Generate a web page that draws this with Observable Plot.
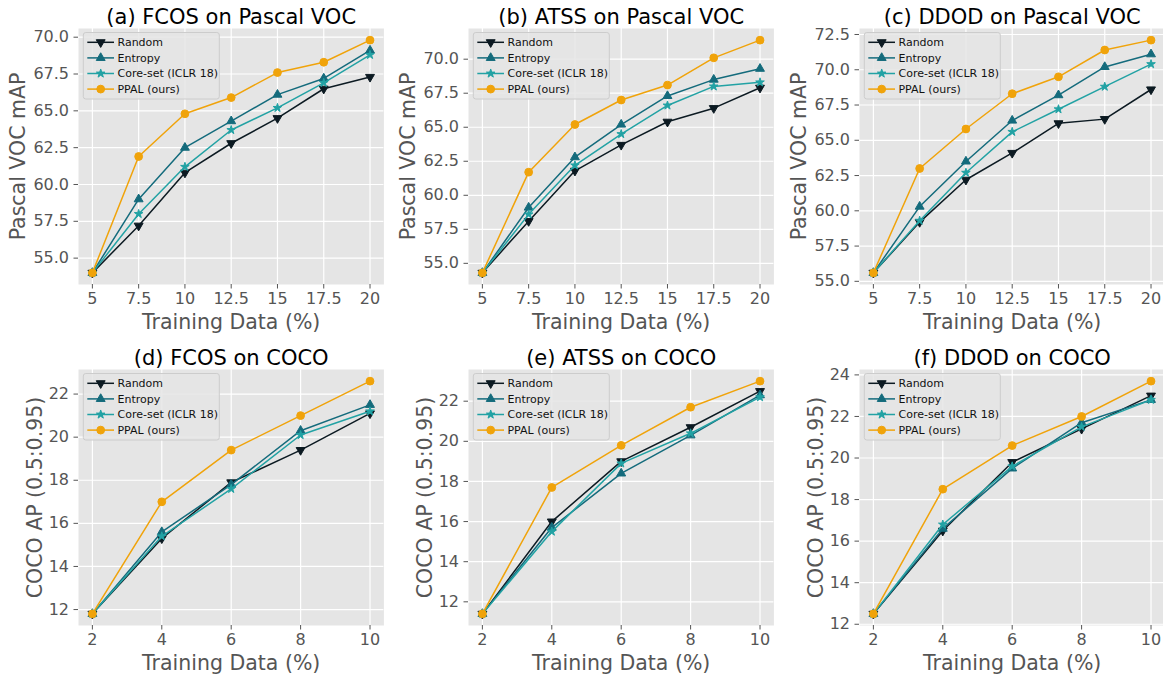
<!DOCTYPE html>
<html><head><meta charset="utf-8">
<script src="https://cdn.jsdelivr.net/npm/d3@7"></script>
<script src="https://cdn.jsdelivr.net/npm/@observablehq/plot@0.6"></script>
<style>
html,body{margin:0;padding:0;background:#fff;overflow:hidden;}
#wrap{position:relative;width:1163px;height:675px;overflow:hidden;font-family:"DejaVu Sans",sans-serif;}
.panel{position:absolute;width:390px;height:337px;}
.panel svg{max-width:none !important;overflow:visible;}
</style></head><body><div id="wrap"></div>
<script>
const methods = ["Random", "Entropy", "Core-set (ICLR 18)", "PPAL (ours)"];
const colors = ["#0c1a22", "#146b7c", "#22a2a4", "#f0a30a"];

const vocX = [5, 7.5, 10, 12.5, 15, 17.5, 20];
const cocoX = [2, 4, 6, 8, 10];
const vocYTicks = [55, 57.5, 60, 62.5, 65, 67.5, 70];
const vocYTicksC = [55, 57.5, 60, 62.5, 65, 67.5, 70, 72.5];
const cocoYTicks = [12, 14, 16, 18, 20, 22];
const cocoYTicksF = [12, 14, 16, 18, 20, 22, 24];

const fcosVocRandom  = [54.0, 57.2, 60.8, 62.8, 64.5, 66.5, 67.3];
const fcosVocEntropy = [54.0, 59.0, 62.5, 64.3, 66.1, 67.2, 69.1];
const fcosVocCoreset = [54.0, 58.0, 61.2, 63.7, 65.2, 66.9, 68.8];
const fcosVocPPAL    = [54.0, 61.9, 64.8, 65.9, 67.6, 68.3, 69.8];

const atssVocRandom  = [54.3, 58.1, 61.8, 63.7, 65.4, 66.4, 67.9];
const atssVocEntropy = [54.3, 59.1, 62.8, 65.2, 67.3, 68.5, 69.3];
const atssVocCoreset = [54.3, 58.6, 62.2, 64.5, 66.6, 68.0, 68.3];
const atssVocPPAL    = [54.3, 61.7, 65.2, 67.0, 68.1, 70.1, 71.4];

const ddodVocRandom  = [55.6, 59.2, 62.2, 64.1, 66.2, 66.5, 68.6];
const ddodVocEntropy = [55.6, 60.3, 63.5, 66.4, 68.2, 70.2, 71.1];
const ddodVocCoreset = [55.6, 59.3, 62.7, 65.6, 67.2, 68.8, 70.4];
const ddodVocPPAL    = [55.6, 63.0, 65.8, 68.3, 69.5, 71.4, 72.1];

const fcosCocoRandom  = [11.8, 15.3, 17.9, 19.4, 21.1];
const fcosCocoEntropy = [11.8, 15.6, 17.8, 20.3, 21.5];
const fcosCocoCoreset = [11.8, 15.4, 17.6, 20.1, 21.2];
const fcosCocoPPAL    = [11.8, 17.0, 19.4, 21.0, 22.6];

const atssCocoRandom  = [11.4, 16.0, 19.0, 20.7, 22.5];
const atssCocoEntropy = [11.4, 15.7, 18.4, 20.3, 22.3];
const atssCocoCoreset = [11.4, 15.5, 18.9, 20.4, 22.2];
const atssCocoPPAL    = [11.4, 17.7, 19.8, 21.7, 23.0];

const ddodCocoRandom  = [12.5, 16.5, 19.8, 21.4, 23.0];
const ddodCocoEntropy = [12.5, 16.6, 19.5, 21.7, 22.8];
const ddodCocoCoreset = [12.5, 16.8, 19.6, 21.5, 22.8];
const ddodCocoPPAL    = [12.5, 18.5, 20.6, 22.0, 23.7];

const titles = ["(a) FCOS on Pascal VOC", "(b) ATSS on Pascal VOC", "(c) DDOD on Pascal VOC",
                "(d) FCOS on COCO", "(e) ATSS on COCO", "(f) DDOD on COCO"];
const xLabel = "Training Data (%)";
const vocYLabel = "Pascal VOC mAP";
const cocoYLabel = "COCO AP (0.5:0.95)";

// custom down-pointing triangle
const sqrt3 = Math.sqrt(3);
const triangleDown = {
  draw(context, size) {
    const y = -Math.sqrt(size / (sqrt3 * 3));
    context.moveTo(0, -y * 2);
    context.lineTo(-sqrt3 * y, y);
    context.lineTo(sqrt3 * y, y);
    context.closePath();
  }
};
const symbols = [triangleDown, d3.symbolTriangle, d3.symbolStar, d3.symbolCircle];
const radii = [3.3, 3.3, 2.7, 3.9];

const panels = [
  {title: titles[0], x: vocX, yTicks: vocYTicks, yFmt: d3.format(".1f"), yLabel: vocYLabel, series: [fcosVocRandom, fcosVocEntropy, fcosVocCoreset, fcosVocPPAL]},
  {title: titles[1], x: vocX, yTicks: vocYTicks, yFmt: d3.format(".1f"), yLabel: vocYLabel, series: [atssVocRandom, atssVocEntropy, atssVocCoreset, atssVocPPAL]},
  {title: titles[2], x: vocX, yTicks: vocYTicksC, yFmt: d3.format(".1f"), yLabel: vocYLabel, series: [ddodVocRandom, ddodVocEntropy, ddodVocCoreset, ddodVocPPAL]},
  {title: titles[3], x: cocoX, yTicks: cocoYTicks, yFmt: d => String(d), yLabel: cocoYLabel, series: [fcosCocoRandom, fcosCocoEntropy, fcosCocoCoreset, fcosCocoPPAL]},
  {title: titles[4], x: cocoX, yTicks: cocoYTicks, yFmt: d => String(d), yLabel: cocoYLabel, series: [atssCocoRandom, atssCocoEntropy, atssCocoCoreset, atssCocoPPAL]},
  {title: titles[5], x: cocoX, yTicks: cocoYTicksF, yFmt: d => String(d), yLabel: cocoYLabel, series: [ddodCocoRandom, ddodCocoEntropy, ddodCocoCoreset, ddodCocoPPAL]}
];

const pad = ([a, b]) => [a - (b - a) * 0.05, b + (b - a) * 0.05];
const W = 390, H = 337, ML = 78, MT = 28, FW = 305.4, FH = 256;
const wrap = document.getElementById("wrap");

panels.forEach((p, k) => {
  const col = k % 3, row = Math.floor(k / 3);
  const rowsBy = p.series.map((vals, i) => vals.map((v, j) => ({method: methods[i], x: p.x[j], y: v})));
  const marks = [
    Plot.frame({fill: "#e5e5e5", stroke: "none"}),
    Plot.gridX(p.x, {stroke: "#ffffff", strokeOpacity: 1, strokeWidth: 1.2}),
    Plot.gridY(p.yTicks, {stroke: "#ffffff", strokeOpacity: 1, strokeWidth: 1.2}),
    Plot.axisX(p.x, {tickSize: 4.5, tickPadding: 4, fontSize: 16, fill: "#555555", stroke: "#555555", label: null, tickFormat: d => String(d)}),
    Plot.axisY(p.yTicks, {tickSize: 4.5, tickPadding: 5, fontSize: 16, fill: "#555555", stroke: "#555555", label: null, tickFormat: p.yFmt})
  ];
  rowsBy.forEach((rows, i) => {
    marks.push(Plot.line(rows, {x: "x", y: "y", stroke: colors[i], strokeWidth: 1.5}));
    marks.push(Plot.dot(rows, {x: "x", y: "y", fill: colors[i], stroke: colors[i], strokeWidth: 1, symbol: symbols[i], r: radii[i]}));
  });
  marks.push(Plot.text([p.title], {text: d => d, frameAnchor: "top", textAnchor: "middle", lineAnchor: "bottom", dy: -4.5, fontSize: 21, fill: "#000000"}));
  marks.push(Plot.text([xLabel], {text: d => d, frameAnchor: "bottom", textAnchor: "middle", lineAnchor: "bottom", dy: 44.5, fontSize: 20.5, fill: "#555555"}));
  marks.push(Plot.text([p.yLabel], {text: d => d, frameAnchor: "left", textAnchor: "middle", rotate: -90, lineAnchor: "bottom", dx: row === 0 ? -53.5 : -37, fontSize: 20.5, fill: "#555555"}));

  const svg = Plot.plot({
    width: W, height: H,
    marginLeft: ML, marginRight: W - ML - FW, marginTop: MT, marginBottom: H - MT - FH,
    style: {fontFamily: "'DejaVu Sans', sans-serif", background: "transparent"},
    x: {domain: pad(d3.extent(p.x))},
    y: {domain: pad(d3.extent(p.series.flat()))},
    marks
  });

  // legend (upper left, inside the frame)
  const g = d3.select(svg).append("g").attr("transform", `translate(${ML + 5.3},${MT + 4.5})`);
  g.append("rect").attr("width", 136).attr("height", 66.5).attr("rx", 2.5)
    .attr("fill", "#e5e5e5").attr("fill-opacity", 0.85).attr("stroke", "#cccccc").attr("stroke-width", 1);
  methods.forEach((m, i) => {
    const y = 9.8 + i * 15.6;
    g.append("line").attr("x1", 4).attr("x2", 30.7).attr("y1", y).attr("y2", y)
      .attr("stroke", colors[i]).attr("stroke-width", 1.5);
    g.append("path").attr("d", d3.symbol(symbols[i], Math.PI * radii[i] * radii[i])())
      .attr("transform", `translate(17.4,${y})`).attr("fill", colors[i]).attr("stroke", colors[i]);
    g.append("text").attr("x", 34.2).attr("y", y).attr("dy", "0.35em").attr("text-anchor", "start")
      .attr("font-size", 11).attr("fill", "#111111").attr("font-family", "'DejaVu Sans', sans-serif").text(m);
  });

  const div = document.createElement("div");
  div.className = "panel";
  div.style.left = (col * 390.4) + "px";
  div.style.top = (row * 341) + "px";
  div.appendChild(svg);
  wrap.appendChild(div);
});
</script></body></html>
